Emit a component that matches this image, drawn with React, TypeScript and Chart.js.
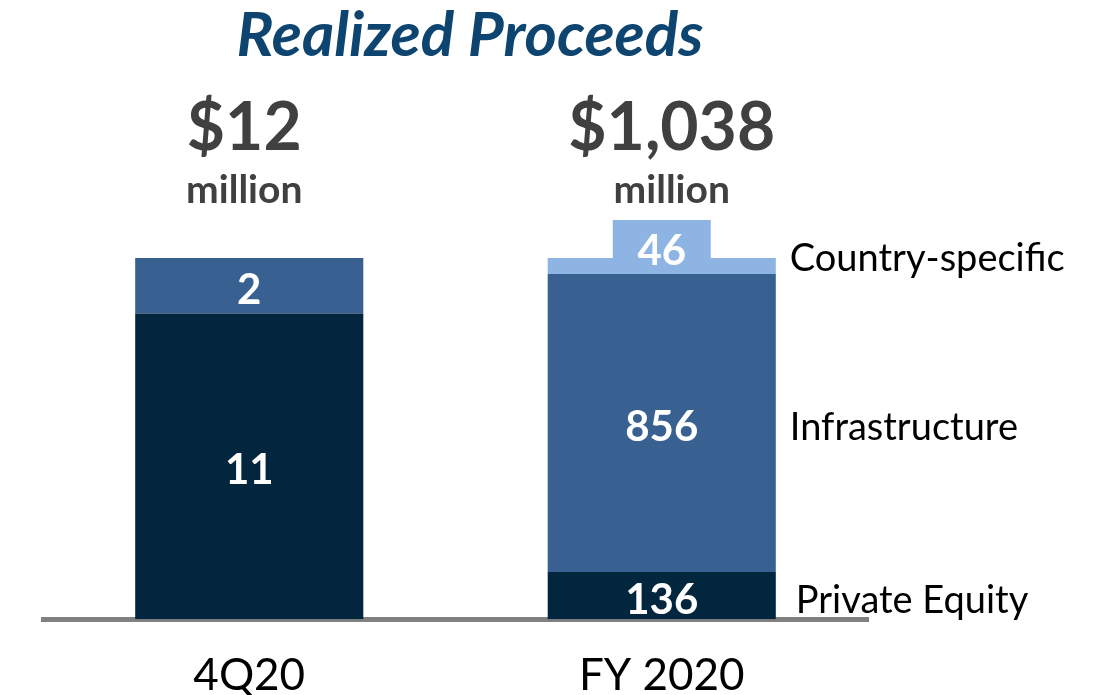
import React, { useEffect, useRef } from 'react';
import { Chart, registerables } from 'chart.js';

Chart.register(...registerables);

const title = 'Realized Proceeds';
const categories = ['4Q20', 'FY 2020'];
const totalLabels = ['$12', '$1,038'];
const unitLabel = 'million';
const seriesNames = ['Private Equity', 'Infrastructure', 'Country-specific'];
const privateEquity = [11, 136];
const infrastructure = [2, 856];
const countrySpecific = [0, 46];

const FONT = 'Lato';
const seriesColors = ['#03263F', '#386192', '#8EB4E3'];

const rawSeries = [privateEquity, infrastructure, countrySpecific];
const barTotals = categories.map((_, j) => rawSeries.reduce((s, arr) => s + arr[j], 0));
const pctSeries = rawSeries.map((arr) => arr.map((v, j) => (v / barTotals[j]) * 100));

const overlayPlugin = {
  id: 'overlay',
  afterDatasetsDraw(chart: any) {
    const ctx = chart.ctx as CanvasRenderingContext2D;
    const metas = chart.data.datasets.map((_: any, i: number) => chart.getDatasetMeta(i));
    ctx.save();
    ctx.textAlign = 'center';
    ctx.textBaseline = 'alphabetic';

    // Title
    ctx.fillStyle = '#0E4470';
    ctx.font = `italic bold 62px ${FONT}`;
    ctx.fillText(title, 470, 56);

    // Totals above bars
    metas[0].data.forEach((el: any, j: number) => {
      const x = el.x + (j === 0 ? -5 : 10);
      ctx.fillStyle = '#404040';
      ctx.font = `bold 66px ${FONT}`;
      ctx.fillText(totalLabels[j], x, 150);
      ctx.font = `bold 39px ${FONT}`;
      ctx.fillText(unitLabel, x, 203);
    });

    // Segment value labels
    metas.forEach((meta: any, i: number) => {
      meta.data.forEach((el: any, j: number) => {
        const v = rawSeries[i][j];
        if (!v) return;
        let cy = (el.y + el.base) / 2 + 3;
        if (i === 2) {
          ctx.fillStyle = seriesColors[2];
          ctx.fillRect(el.x - 49, el.y - 38, 98, 40);
          cy = el.y - 8;
        }
        ctx.fillStyle = '#FFFFFF';
        ctx.font = `bold 42px ${FONT}`;
        ctx.fillText(String(v), el.x, cy + 15);
      });
    });

    // Series names next to last bar
    const last = categories.length - 1;
    ctx.textAlign = 'left';
    ctx.fillStyle = '#000000';
    ctx.font = `38px ${FONT}`;
    metas.forEach((meta: any, i: number) => {
      const el = meta.data[last];
      const cy = i === 2 ? el.y - 1 : (el.y + el.base) / 2 + 3;
      const x = el.x + el.width / 2 + (i === 0 ? 20 : 14);
      ctx.fillText(seriesNames[i], x, cy + 14);
    });
    ctx.restore();
  },
};

export default function App() {
  const canvasRef = useRef<HTMLCanvasElement | null>(null);

  useEffect(() => {
    document.body.style.margin = '0';
    let chart: Chart | null = null;
    let cancelled = false;
    const fontLoads = [
      `italic bold 54px ${FONT}`,
      `bold 40px ${FONT}`,
      `40px ${FONT}`,
    ].map((f) => (document as any).fonts?.load(f).catch(() => null));
    Promise.all(fontLoads).then(() => {
      if (cancelled || !canvasRef.current) return;
      chart = new Chart(canvasRef.current, {
        type: 'bar',
        data: {
          labels: categories,
          datasets: seriesNames.map((name, i) => ({
            label: name,
            data: pctSeries[i],
            backgroundColor: seriesColors[i],
            borderWidth: 0,
            barPercentage: 0.553,
            categoryPercentage: 1,
          })),
        },
        options: {
          responsive: false,
          animation: false,
          devicePixelRatio: 1,
          layout: { padding: { top: 258, left: 43, right: 251, bottom: -37 } },
          plugins: {
            legend: { display: false },
            tooltip: { enabled: false },
            title: { display: false },
          },
          scales: {
            x: {
              stacked: true,
              grid: { display: false, drawTicks: false, tickLength: 0 },
              border: { display: true, color: '#808080', width: 5 },
              ticks: {
                color: '#000000',
                font: { family: FONT, size: 44 },
                padding: 30,
              },
            },
            y: {
              stacked: true,
              display: false,
              min: 0,
              max: 100,
            },
          },
        },
        plugins: [overlayPlugin],
      });
    });
    return () => {
      cancelled = true;
      if (chart) chart.destroy();
    };
  }, []);

  return (
    <div style={{ width: 1119, height: 695, background: '#FFFFFF' }}>
      <canvas ref={canvasRef} width={1119} height={695} style={{ display: 'block' }} />
    </div>
  );
}
